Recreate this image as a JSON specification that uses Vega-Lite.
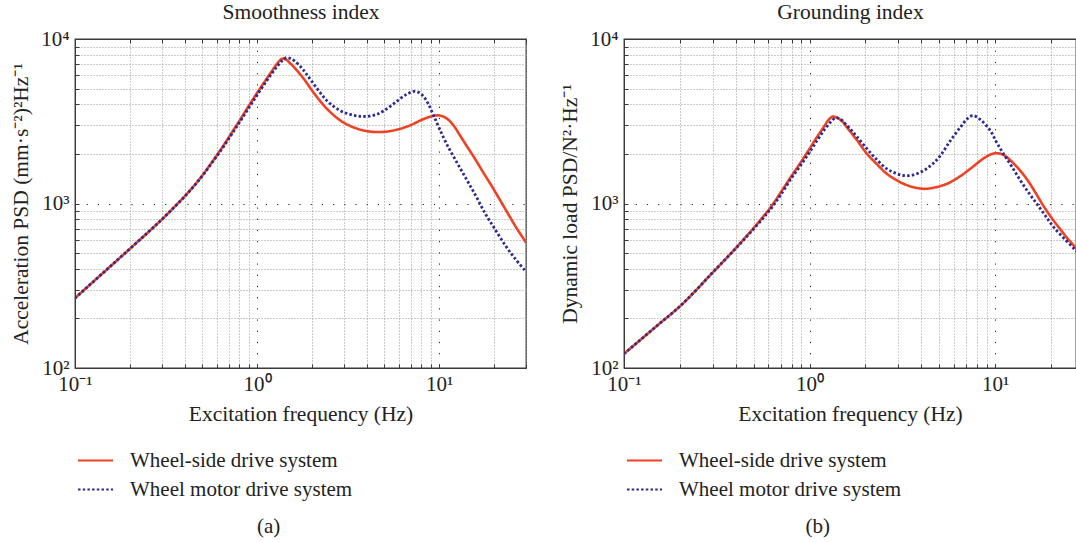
{
  "$schema": "https://vega.github.io/schema/vega-lite/v6.json",
  "background": "white",
  "padding": {"left": 10, "top": 0, "right": 0, "bottom": 0},
  "bounds": "flush",
  "spacing": 98,
  "config": {
    "font": "Liberation Serif",
    "view": {"stroke": "#3a3a3a", "strokeWidth": 1.3},
    "axis": {"labelFont": "Liberation Serif", "titleFont": "Liberation Serif", "labelFontSize": 21, "titleFontSize": 21.5, "labelColor": "#222", "titleColor": "#222", "titleFontWeight": "normal", "labelFlush": false, "labelOverlap": false, "labelBound": false, "domainColor": "#3a3a3a", "tickColor": "#3a3a3a"},
    "legend": {"labelFont": "Liberation Serif", "labelFontSize": 21, "labelColor": "#222"},
    "title": {"font": "Liberation Serif", "fontSize": 21, "fontWeight": "normal", "color": "#222"}
  },
  "datasets": {
    "smooth": [
      {"f": 0.1, "psd": 266, "series": "Wheel-side drive system"},
      {"f": 0.15, "psd": 398, "series": "Wheel-side drive system"},
      {"f": 0.2, "psd": 530, "series": "Wheel-side drive system"},
      {"f": 0.25, "psd": 663, "series": "Wheel-side drive system"},
      {"f": 0.3, "psd": 800, "series": "Wheel-side drive system"},
      {"f": 0.35, "psd": 948, "series": "Wheel-side drive system"},
      {"f": 0.4, "psd": 1105, "series": "Wheel-side drive system"},
      {"f": 0.45, "psd": 1280, "series": "Wheel-side drive system"},
      {"f": 0.5, "psd": 1480, "series": "Wheel-side drive system"},
      {"f": 0.55, "psd": 1710, "series": "Wheel-side drive system"},
      {"f": 0.6, "psd": 1960, "series": "Wheel-side drive system"},
      {"f": 0.65, "psd": 2230, "series": "Wheel-side drive system"},
      {"f": 0.7, "psd": 2530, "series": "Wheel-side drive system"},
      {"f": 0.75, "psd": 2850, "series": "Wheel-side drive system"},
      {"f": 0.8, "psd": 3180, "series": "Wheel-side drive system"},
      {"f": 0.85, "psd": 3540, "series": "Wheel-side drive system"},
      {"f": 0.9, "psd": 3920, "series": "Wheel-side drive system"},
      {"f": 0.95, "psd": 4300, "series": "Wheel-side drive system"},
      {"f": 1.0, "psd": 4700, "series": "Wheel-side drive system"},
      {"f": 1.1, "psd": 5500, "series": "Wheel-side drive system"},
      {"f": 1.2, "psd": 6330, "series": "Wheel-side drive system"},
      {"f": 1.27, "psd": 6930, "series": "Wheel-side drive system"},
      {"f": 1.33, "psd": 7380, "series": "Wheel-side drive system"},
      {"f": 1.38, "psd": 7590, "series": "Wheel-side drive system"},
      {"f": 1.44, "psd": 7500, "series": "Wheel-side drive system"},
      {"f": 1.52, "psd": 7120, "series": "Wheel-side drive system"},
      {"f": 1.6, "psd": 6720, "series": "Wheel-side drive system"},
      {"f": 1.75, "psd": 5980, "series": "Wheel-side drive system"},
      {"f": 1.85, "psd": 5520, "series": "Wheel-side drive system"},
      {"f": 2.0, "psd": 4880, "series": "Wheel-side drive system"},
      {"f": 2.2, "psd": 4250, "series": "Wheel-side drive system"},
      {"f": 2.4, "psd": 3800, "series": "Wheel-side drive system"},
      {"f": 2.63, "psd": 3450, "series": "Wheel-side drive system"},
      {"f": 2.9, "psd": 3170, "series": "Wheel-side drive system"},
      {"f": 3.25, "psd": 2960, "series": "Wheel-side drive system"},
      {"f": 3.7, "psd": 2810, "series": "Wheel-side drive system"},
      {"f": 4.2, "psd": 2735, "series": "Wheel-side drive system"},
      {"f": 4.6, "psd": 2720, "series": "Wheel-side drive system"},
      {"f": 5.2, "psd": 2740, "series": "Wheel-side drive system"},
      {"f": 6.0, "psd": 2830, "series": "Wheel-side drive system"},
      {"f": 7.0, "psd": 3000, "series": "Wheel-side drive system"},
      {"f": 8.0, "psd": 3220, "series": "Wheel-side drive system"},
      {"f": 9.0, "psd": 3380, "series": "Wheel-side drive system"},
      {"f": 9.6, "psd": 3430, "series": "Wheel-side drive system"},
      {"f": 10.2, "psd": 3420, "series": "Wheel-side drive system"},
      {"f": 11.0, "psd": 3290, "series": "Wheel-side drive system"},
      {"f": 12.0, "psd": 2980, "series": "Wheel-side drive system"},
      {"f": 13.0, "psd": 2600, "series": "Wheel-side drive system"},
      {"f": 14.2, "psd": 2230, "series": "Wheel-side drive system"},
      {"f": 15.5, "psd": 1920, "series": "Wheel-side drive system"},
      {"f": 17.5, "psd": 1540, "series": "Wheel-side drive system"},
      {"f": 19.5, "psd": 1270, "series": "Wheel-side drive system"},
      {"f": 21.6, "psd": 1050, "series": "Wheel-side drive system"},
      {"f": 24.0, "psd": 860, "series": "Wheel-side drive system"},
      {"f": 26.1, "psd": 735, "series": "Wheel-side drive system"},
      {"f": 28.0, "psd": 650, "series": "Wheel-side drive system"},
      {"f": 30.0, "psd": 580, "series": "Wheel-side drive system"},
      {"f": 0.1, "psd": 266, "series": "Wheel motor drive system"},
      {"f": 0.15, "psd": 398, "series": "Wheel motor drive system"},
      {"f": 0.2, "psd": 530, "series": "Wheel motor drive system"},
      {"f": 0.25, "psd": 663, "series": "Wheel motor drive system"},
      {"f": 0.3, "psd": 800, "series": "Wheel motor drive system"},
      {"f": 0.35, "psd": 948, "series": "Wheel motor drive system"},
      {"f": 0.4, "psd": 1103, "series": "Wheel motor drive system"},
      {"f": 0.45, "psd": 1275, "series": "Wheel motor drive system"},
      {"f": 0.5, "psd": 1470, "series": "Wheel motor drive system"},
      {"f": 0.55, "psd": 1695, "series": "Wheel motor drive system"},
      {"f": 0.6, "psd": 1935, "series": "Wheel motor drive system"},
      {"f": 0.65, "psd": 2195, "series": "Wheel motor drive system"},
      {"f": 0.7, "psd": 2480, "series": "Wheel motor drive system"},
      {"f": 0.75, "psd": 2790, "series": "Wheel motor drive system"},
      {"f": 0.8, "psd": 3110, "series": "Wheel motor drive system"},
      {"f": 0.85, "psd": 3450, "series": "Wheel motor drive system"},
      {"f": 0.9, "psd": 3810, "series": "Wheel motor drive system"},
      {"f": 0.95, "psd": 4180, "series": "Wheel motor drive system"},
      {"f": 1.0, "psd": 4560, "series": "Wheel motor drive system"},
      {"f": 1.1, "psd": 5340, "series": "Wheel motor drive system"},
      {"f": 1.2, "psd": 6130, "series": "Wheel motor drive system"},
      {"f": 1.3, "psd": 6900, "series": "Wheel motor drive system"},
      {"f": 1.38, "psd": 7420, "series": "Wheel motor drive system"},
      {"f": 1.45, "psd": 7700, "series": "Wheel motor drive system"},
      {"f": 1.52, "psd": 7620, "series": "Wheel motor drive system"},
      {"f": 1.6, "psd": 7380, "series": "Wheel motor drive system"},
      {"f": 1.75, "psd": 6700, "series": "Wheel motor drive system"},
      {"f": 1.85, "psd": 6200, "series": "Wheel motor drive system"},
      {"f": 2.0, "psd": 5520, "series": "Wheel motor drive system"},
      {"f": 2.2, "psd": 4780, "series": "Wheel motor drive system"},
      {"f": 2.4, "psd": 4250, "series": "Wheel motor drive system"},
      {"f": 2.63, "psd": 3900, "series": "Wheel motor drive system"},
      {"f": 2.9, "psd": 3640, "series": "Wheel motor drive system"},
      {"f": 3.25, "psd": 3480, "series": "Wheel motor drive system"},
      {"f": 3.6, "psd": 3400, "series": "Wheel motor drive system"},
      {"f": 4.0, "psd": 3385, "series": "Wheel motor drive system"},
      {"f": 4.5, "psd": 3470, "series": "Wheel motor drive system"},
      {"f": 4.94, "psd": 3650, "series": "Wheel motor drive system"},
      {"f": 5.5, "psd": 3960, "series": "Wheel motor drive system"},
      {"f": 6.1, "psd": 4330, "series": "Wheel motor drive system"},
      {"f": 6.7, "psd": 4640, "series": "Wheel motor drive system"},
      {"f": 7.25, "psd": 4800, "series": "Wheel motor drive system"},
      {"f": 7.7, "psd": 4740, "series": "Wheel motor drive system"},
      {"f": 8.2, "psd": 4480, "series": "Wheel motor drive system"},
      {"f": 8.7, "psd": 4050, "series": "Wheel motor drive system"},
      {"f": 9.3, "psd": 3450, "series": "Wheel motor drive system"},
      {"f": 10.0, "psd": 2880, "series": "Wheel motor drive system"},
      {"f": 11.0, "psd": 2300, "series": "Wheel motor drive system"},
      {"f": 12.5, "psd": 1780, "series": "Wheel motor drive system"},
      {"f": 14.2, "psd": 1390, "series": "Wheel motor drive system"},
      {"f": 16.0, "psd": 1100, "series": "Wheel motor drive system"},
      {"f": 18.0, "psd": 860, "series": "Wheel motor drive system"},
      {"f": 20.0, "psd": 715, "series": "Wheel motor drive system"},
      {"f": 23.0, "psd": 560, "series": "Wheel motor drive system"},
      {"f": 26.0, "psd": 465, "series": "Wheel motor drive system"},
      {"f": 30.0, "psd": 385, "series": "Wheel motor drive system"}
    ],
    "ground": [
      {"f": 0.1, "psd": 122, "series": "Wheel-side drive system"},
      {"f": 0.15, "psd": 180, "series": "Wheel-side drive system"},
      {"f": 0.2, "psd": 237, "series": "Wheel-side drive system"},
      {"f": 0.25, "psd": 305, "series": "Wheel-side drive system"},
      {"f": 0.3, "psd": 380, "series": "Wheel-side drive system"},
      {"f": 0.35, "psd": 455, "series": "Wheel-side drive system"},
      {"f": 0.4, "psd": 535, "series": "Wheel-side drive system"},
      {"f": 0.45, "psd": 620, "series": "Wheel-side drive system"},
      {"f": 0.5, "psd": 710, "series": "Wheel-side drive system"},
      {"f": 0.56, "psd": 826, "series": "Wheel-side drive system"},
      {"f": 0.6, "psd": 910, "series": "Wheel-side drive system"},
      {"f": 0.65, "psd": 1030, "series": "Wheel-side drive system"},
      {"f": 0.7, "psd": 1170, "series": "Wheel-side drive system"},
      {"f": 0.8, "psd": 1470, "series": "Wheel-side drive system"},
      {"f": 0.9, "psd": 1790, "series": "Wheel-side drive system"},
      {"f": 1.0, "psd": 2150, "series": "Wheel-side drive system"},
      {"f": 1.1, "psd": 2550, "series": "Wheel-side drive system"},
      {"f": 1.2, "psd": 2950, "series": "Wheel-side drive system"},
      {"f": 1.26, "psd": 3200, "series": "Wheel-side drive system"},
      {"f": 1.33, "psd": 3375, "series": "Wheel-side drive system"},
      {"f": 1.4, "psd": 3330, "series": "Wheel-side drive system"},
      {"f": 1.5, "psd": 3160, "series": "Wheel-side drive system"},
      {"f": 1.59, "psd": 2905, "series": "Wheel-side drive system"},
      {"f": 1.7, "psd": 2640, "series": "Wheel-side drive system"},
      {"f": 1.8, "psd": 2430, "series": "Wheel-side drive system"},
      {"f": 2.04, "psd": 2005, "series": "Wheel-side drive system"},
      {"f": 2.3, "psd": 1740, "series": "Wheel-side drive system"},
      {"f": 2.61, "psd": 1515, "series": "Wheel-side drive system"},
      {"f": 2.9, "psd": 1400, "series": "Wheel-side drive system"},
      {"f": 3.21, "psd": 1318, "series": "Wheel-side drive system"},
      {"f": 3.6, "psd": 1260, "series": "Wheel-side drive system"},
      {"f": 4.12, "psd": 1228, "series": "Wheel-side drive system"},
      {"f": 4.7, "psd": 1250, "series": "Wheel-side drive system"},
      {"f": 5.51, "psd": 1318, "series": "Wheel-side drive system"},
      {"f": 6.4, "psd": 1450, "series": "Wheel-side drive system"},
      {"f": 7.35, "psd": 1625, "series": "Wheel-side drive system"},
      {"f": 8.5, "psd": 1850, "series": "Wheel-side drive system"},
      {"f": 9.3, "psd": 1970, "series": "Wheel-side drive system"},
      {"f": 10.0, "psd": 2020, "series": "Wheel-side drive system"},
      {"f": 10.6, "psd": 2010, "series": "Wheel-side drive system"},
      {"f": 11.3, "psd": 1950, "series": "Wheel-side drive system"},
      {"f": 12.1, "psd": 1830, "series": "Wheel-side drive system"},
      {"f": 13.5, "psd": 1610, "series": "Wheel-side drive system"},
      {"f": 14.9, "psd": 1395, "series": "Wheel-side drive system"},
      {"f": 16.5, "psd": 1165, "series": "Wheel-side drive system"},
      {"f": 18.3, "psd": 960, "series": "Wheel-side drive system"},
      {"f": 20.3, "psd": 810, "series": "Wheel-side drive system"},
      {"f": 22.5, "psd": 695, "series": "Wheel-side drive system"},
      {"f": 25.0, "psd": 600, "series": "Wheel-side drive system"},
      {"f": 27.4, "psd": 535, "series": "Wheel-side drive system"},
      {"f": 30.0, "psd": 475, "series": "Wheel-side drive system"},
      {"f": 0.1, "psd": 122, "series": "Wheel motor drive system"},
      {"f": 0.15, "psd": 180, "series": "Wheel motor drive system"},
      {"f": 0.2, "psd": 237, "series": "Wheel motor drive system"},
      {"f": 0.25, "psd": 305, "series": "Wheel motor drive system"},
      {"f": 0.3, "psd": 380, "series": "Wheel motor drive system"},
      {"f": 0.35, "psd": 455, "series": "Wheel motor drive system"},
      {"f": 0.4, "psd": 533, "series": "Wheel motor drive system"},
      {"f": 0.45, "psd": 615, "series": "Wheel motor drive system"},
      {"f": 0.5, "psd": 700, "series": "Wheel motor drive system"},
      {"f": 0.56, "psd": 810, "series": "Wheel motor drive system"},
      {"f": 0.6, "psd": 890, "series": "Wheel motor drive system"},
      {"f": 0.65, "psd": 1000, "series": "Wheel motor drive system"},
      {"f": 0.7, "psd": 1130, "series": "Wheel motor drive system"},
      {"f": 0.8, "psd": 1430, "series": "Wheel motor drive system"},
      {"f": 0.9, "psd": 1720, "series": "Wheel motor drive system"},
      {"f": 1.0, "psd": 2050, "series": "Wheel motor drive system"},
      {"f": 1.1, "psd": 2420, "series": "Wheel motor drive system"},
      {"f": 1.2, "psd": 2800, "series": "Wheel motor drive system"},
      {"f": 1.3, "psd": 3130, "series": "Wheel motor drive system"},
      {"f": 1.38, "psd": 3310, "series": "Wheel motor drive system"},
      {"f": 1.45, "psd": 3290, "series": "Wheel motor drive system"},
      {"f": 1.59, "psd": 2980, "series": "Wheel motor drive system"},
      {"f": 1.7, "psd": 2750, "series": "Wheel motor drive system"},
      {"f": 1.8, "psd": 2550, "series": "Wheel motor drive system"},
      {"f": 2.04, "psd": 2150, "series": "Wheel motor drive system"},
      {"f": 2.3, "psd": 1850, "series": "Wheel motor drive system"},
      {"f": 2.61, "psd": 1625, "series": "Wheel motor drive system"},
      {"f": 2.9, "psd": 1530, "series": "Wheel motor drive system"},
      {"f": 3.21, "psd": 1480, "series": "Wheel motor drive system"},
      {"f": 3.6, "psd": 1490, "series": "Wheel motor drive system"},
      {"f": 4.12, "psd": 1585, "series": "Wheel motor drive system"},
      {"f": 4.6, "psd": 1740, "series": "Wheel motor drive system"},
      {"f": 5.07, "psd": 1955, "series": "Wheel motor drive system"},
      {"f": 5.7, "psd": 2380, "series": "Wheel motor drive system"},
      {"f": 6.49, "psd": 2905, "series": "Wheel motor drive system"},
      {"f": 7.1, "psd": 3280, "series": "Wheel motor drive system"},
      {"f": 7.6, "psd": 3420, "series": "Wheel motor drive system"},
      {"f": 8.3, "psd": 3250, "series": "Wheel motor drive system"},
      {"f": 9.42, "psd": 2775, "series": "Wheel motor drive system"},
      {"f": 10.2, "psd": 2350, "series": "Wheel motor drive system"},
      {"f": 11.1, "psd": 2005, "series": "Wheel motor drive system"},
      {"f": 12.3, "psd": 1680, "series": "Wheel motor drive system"},
      {"f": 13.7, "psd": 1380, "series": "Wheel motor drive system"},
      {"f": 15.2, "psd": 1160, "series": "Wheel motor drive system"},
      {"f": 16.8, "psd": 995, "series": "Wheel motor drive system"},
      {"f": 18.7, "psd": 840, "series": "Wheel motor drive system"},
      {"f": 20.7, "psd": 718, "series": "Wheel motor drive system"},
      {"f": 24.0, "psd": 600, "series": "Wheel motor drive system"},
      {"f": 27.4, "psd": 515, "series": "Wheel motor drive system"},
      {"f": 30.0, "psd": 465, "series": "Wheel motor drive system"}
    ]
  },
  "resolve": {"scale": {"color": "independent", "strokeDash": "independent"}},
  "hconcat": [
    {
      "width": 451,
      "height": 329,
      "title": {"text": "(a)", "orient": "bottom", "frame": "bounds", "anchor": "middle", "offset": 16},
      "data": {"name": "smooth"},
      "resolve": {"axis": {"x": "independent"}},
      "layer": [
        {
          "transform": [{"filter": "datum.series == 'Wheel-side drive system'"}],
          "mark": {"type": "line", "strokeWidth": 2.6, "clip": true, "interpolate": "catmull-rom"},
          "encoding": {
            "x": {"field": "f", "type": "quantitative", "scale": {"type": "log", "domain": [0.1, 30], "nice": false},
              "axis": {"orient": "bottom", "title": "Excitation frequency (Hz)", "titlePadding": 9, "labelPadding": 9, "tickSize": -4,
                "values": [0.1, 0.2, 0.3, 0.4, 0.5, 0.6, 0.7, 0.8, 0.9, 1, 2, 3, 4, 5, 6, 7, 8, 9, 10, 20, 30],
                "labelExpr": "datum.value == 0.1 ? '10⁻¹' : datum.value == 1 ? '10⁰' : datum.value == 10 ? '10¹' : ''",
                "grid": true,
                "gridColor": {"condition": {"test": "datum.value == 1 || datum.value == 10", "value": "#222"}, "value": "#999999"},
                "gridDash": {"condition": {"test": "datum.value == 1 || datum.value == 10", "value": [1.2, 10]}, "value": [1, 2]}}},
            "y": {"field": "psd", "type": "quantitative", "scale": {"type": "log", "domain": [100, 10000], "nice": false},
              "axis": {"title": "Acceleration PSD (mm·s⁻²)²Hz⁻¹", "titlePadding": 8, "labelPadding": 10, "tickSize": -4,
                "values": [100, 200, 300, 400, 500, 600, 700, 800, 900, 1000, 2000, 3000, 4000, 5000, 6000, 7000, 8000, 9000, 10000],
                "labelExpr": "datum.value == 100 ? '10²' : datum.value == 1000 ? '10³' : datum.value == 10000 ? '10⁴' : ''",
                "grid": true,
                "gridColor": {"condition": {"test": "datum.value == 1000", "value": "#222"}, "value": "#999999"},
                "gridDash": {"condition": {"test": "datum.value == 1000", "value": [1.2, 10]}, "value": [1, 2]}}},
            "color": {"field": "series", "type": "nominal",
              "scale": {"domain": ["Wheel-side drive system", "Wheel motor drive system"], "range": ["#ef4123", "#2d2b8f"]},
              "legend": {"orient": "none", "legendX": 2, "legendY": 403, "title": null, "symbolType": "stroke", "symbolSize": 1225, "symbolStrokeWidth": 1.8, "labelOffset": 16, "rowPadding": -4, "labelLimit": 400}},
            "strokeDash": {"field": "series", "type": "nominal",
              "scale": {"domain": ["Wheel-side drive system", "Wheel motor drive system"], "range": [[1, 0], [2.5, 2.2]]},
              "legend": {"orient": "none", "legendX": 2, "legendY": 403, "title": null, "symbolType": "stroke", "symbolSize": 1225, "symbolStrokeWidth": 1.8, "labelOffset": 16, "rowPadding": -4, "labelLimit": 400}}
          }
        },
        {
          "transform": [{"filter": "datum.series == 'Wheel motor drive system'"}],
          "mark": {"type": "line", "strokeWidth": 2.8, "strokeCap": "butt", "clip": true, "interpolate": "catmull-rom"},
          "encoding": {
            "x": {"field": "f", "type": "quantitative", "scale": {"type": "log", "domain": [0.1, 30], "nice": false},
              "axis": {"orient": "top", "title": "Smoothness index", "titlePadding": 15, "labels": false, "grid": false, "tickSize": -4,
                "values": [0.1, 0.2, 0.3, 0.4, 0.5, 0.6, 0.7, 0.8, 0.9, 1, 2, 3, 4, 5, 6, 7, 8, 9, 10, 20, 30]}},
            "y": {"field": "psd", "type": "quantitative", "scale": {"type": "log", "domain": [100, 10000], "nice": false},
              "axis": {"title": "Acceleration PSD (mm·s⁻²)²Hz⁻¹", "titlePadding": 8, "labelPadding": 10, "tickSize": -4,
                "values": [100, 200, 300, 400, 500, 600, 700, 800, 900, 1000, 2000, 3000, 4000, 5000, 6000, 7000, 8000, 9000, 10000],
                "labelExpr": "datum.value == 100 ? '10²' : datum.value == 1000 ? '10³' : datum.value == 10000 ? '10⁴' : ''",
                "grid": true,
                "gridColor": {"condition": {"test": "datum.value == 1000", "value": "#222"}, "value": "#999999"},
                "gridDash": {"condition": {"test": "datum.value == 1000", "value": [1.2, 10]}, "value": [1, 2]}}},
            "color": {"field": "series", "type": "nominal",
              "scale": {"domain": ["Wheel-side drive system", "Wheel motor drive system"], "range": ["#ef4123", "#2d2b8f"]},
              "legend": {"orient": "none", "legendX": 2, "legendY": 403, "title": null, "symbolType": "stroke", "symbolSize": 1225, "symbolStrokeWidth": 1.8, "labelOffset": 16, "rowPadding": -4, "labelLimit": 400}},
            "strokeDash": {"field": "series", "type": "nominal",
              "scale": {"domain": ["Wheel-side drive system", "Wheel motor drive system"], "range": [[1, 0], [2.5, 2.2]]},
              "legend": {"orient": "none", "legendX": 2, "legendY": 403, "title": null, "symbolType": "stroke", "symbolSize": 1225, "symbolStrokeWidth": 1.8, "labelOffset": 16, "rowPadding": -4, "labelLimit": 400}}
          }
        }
      ]
    },
    {
      "width": 452,
      "height": 329,
      "title": {"text": "(b)", "orient": "bottom", "frame": "bounds", "anchor": "middle", "offset": 16},
      "data": {"name": "ground"},
      "resolve": {"axis": {"x": "independent"}},
      "layer": [
        {
          "transform": [{"filter": "datum.series == 'Wheel-side drive system'"}],
          "mark": {"type": "line", "strokeWidth": 2.6, "clip": true, "interpolate": "catmull-rom"},
          "encoding": {
            "x": {"field": "f", "type": "quantitative", "scale": {"type": "log", "domain": [0.1, 27.3], "nice": false},
              "axis": {"orient": "bottom", "title": "Excitation frequency (Hz)", "titlePadding": 9, "labelPadding": 9, "tickSize": -4,
                "values": [0.1, 0.2, 0.3, 0.4, 0.5, 0.6, 0.7, 0.8, 0.9, 1, 2, 3, 4, 5, 6, 7, 8, 9, 10, 20],
                "labelExpr": "datum.value == 0.1 ? '10⁻¹' : datum.value == 1 ? '10⁰' : datum.value == 10 ? '10¹' : ''",
                "grid": true,
                "gridColor": {"condition": {"test": "datum.value == 1 || datum.value == 10", "value": "#222"}, "value": "#999999"},
                "gridDash": {"condition": {"test": "datum.value == 1 || datum.value == 10", "value": [1.2, 10]}, "value": [1, 2]}}},
            "y": {"field": "psd", "type": "quantitative", "scale": {"type": "log", "domain": [100, 10000], "nice": false},
              "axis": {"title": "Dynamic load PSD/N²·Hz⁻¹", "titlePadding": 8, "labelPadding": 10, "tickSize": -4,
                "values": [100, 200, 300, 400, 500, 600, 700, 800, 900, 1000, 2000, 3000, 4000, 5000, 6000, 7000, 8000, 9000, 10000],
                "labelExpr": "datum.value == 100 ? '10²' : datum.value == 1000 ? '10³' : datum.value == 10000 ? '10⁴' : ''",
                "grid": true,
                "gridColor": {"condition": {"test": "datum.value == 1000", "value": "#222"}, "value": "#999999"},
                "gridDash": {"condition": {"test": "datum.value == 1000", "value": [1.2, 10]}, "value": [1, 2]}}},
            "color": {"field": "series", "type": "nominal",
              "scale": {"domain": ["Wheel-side drive system", "Wheel motor drive system"], "range": ["#ef4123", "#2d2b8f"]},
              "legend": {"orient": "none", "legendX": 2, "legendY": 403, "title": null, "symbolType": "stroke", "symbolSize": 1225, "symbolStrokeWidth": 1.8, "labelOffset": 16, "rowPadding": -4, "labelLimit": 400}},
            "strokeDash": {"field": "series", "type": "nominal",
              "scale": {"domain": ["Wheel-side drive system", "Wheel motor drive system"], "range": [[1, 0], [2.5, 2.2]]},
              "legend": {"orient": "none", "legendX": 2, "legendY": 403, "title": null, "symbolType": "stroke", "symbolSize": 1225, "symbolStrokeWidth": 1.8, "labelOffset": 16, "rowPadding": -4, "labelLimit": 400}}
          }
        },
        {
          "transform": [{"filter": "datum.series == 'Wheel motor drive system'"}],
          "mark": {"type": "line", "strokeWidth": 2.8, "strokeCap": "butt", "clip": true, "interpolate": "catmull-rom"},
          "encoding": {
            "x": {"field": "f", "type": "quantitative", "scale": {"type": "log", "domain": [0.1, 27.3], "nice": false},
              "axis": {"orient": "top", "title": "Grounding index", "titlePadding": 15, "labels": false, "grid": false, "tickSize": -4,
                "values": [0.1, 0.2, 0.3, 0.4, 0.5, 0.6, 0.7, 0.8, 0.9, 1, 2, 3, 4, 5, 6, 7, 8, 9, 10, 20]}},
            "y": {"field": "psd", "type": "quantitative", "scale": {"type": "log", "domain": [100, 10000], "nice": false},
              "axis": {"title": "Dynamic load PSD/N²·Hz⁻¹", "titlePadding": 8, "labelPadding": 10, "tickSize": -4,
                "values": [100, 200, 300, 400, 500, 600, 700, 800, 900, 1000, 2000, 3000, 4000, 5000, 6000, 7000, 8000, 9000, 10000],
                "labelExpr": "datum.value == 100 ? '10²' : datum.value == 1000 ? '10³' : datum.value == 10000 ? '10⁴' : ''",
                "grid": true,
                "gridColor": {"condition": {"test": "datum.value == 1000", "value": "#222"}, "value": "#999999"},
                "gridDash": {"condition": {"test": "datum.value == 1000", "value": [1.2, 10]}, "value": [1, 2]}}},
            "color": {"field": "series", "type": "nominal",
              "scale": {"domain": ["Wheel-side drive system", "Wheel motor drive system"], "range": ["#ef4123", "#2d2b8f"]},
              "legend": {"orient": "none", "legendX": 2, "legendY": 403, "title": null, "symbolType": "stroke", "symbolSize": 1225, "symbolStrokeWidth": 1.8, "labelOffset": 16, "rowPadding": -4, "labelLimit": 400}},
            "strokeDash": {"field": "series", "type": "nominal",
              "scale": {"domain": ["Wheel-side drive system", "Wheel motor drive system"], "range": [[1, 0], [2.5, 2.2]]},
              "legend": {"orient": "none", "legendX": 2, "legendY": 403, "title": null, "symbolType": "stroke", "symbolSize": 1225, "symbolStrokeWidth": 1.8, "labelOffset": 16, "rowPadding": -4, "labelLimit": 400}}
          }
        }
      ]
    }
  ]
}
